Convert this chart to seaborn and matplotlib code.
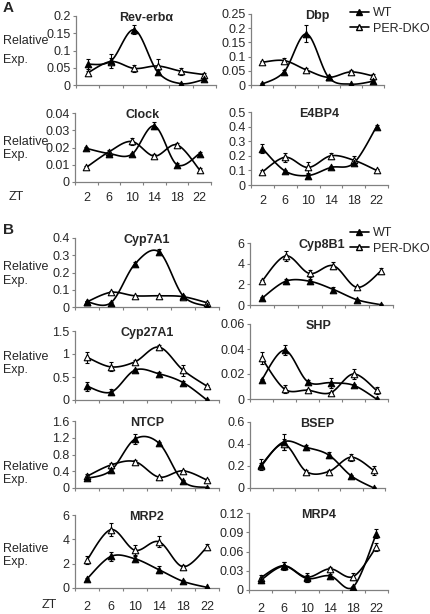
import matplotlib.pyplot as plt
import numpy as np
import pandas as pd
import seaborn as sns
from matplotlib.lines import Line2D

sns.set_style("white")
plt.rcParams["font.family"] = ["Liberation Sans", "DejaVu Sans"]

zt = [2, 6, 10, 14, 18, 22]

# panel A
rev_wt = [0.060, 0.070, 0.160, 0.038, 0.004, 0.016]
rev_wt_err = [0.015, 0.020, 0.013, 0.006, 0.003, 0.005]
rev_dko = [0.035, 0.068, 0.048, 0.055, 0.040, 0.030]
rev_dko_err = [0.006, 0.010, 0.010, 0.020, 0.010, 0.004]

dbp_wt = [0.003, 0.047, 0.180, 0.027, 0.003, 0.013]
dbp_wt_err = [0.003, 0.005, 0.030, 0.005, 0.002, 0.004]
dbp_dko = [0.080, 0.086, 0.053, 0.027, 0.046, 0.032]
dbp_dko_err = [0.005, 0.010, 0.006, 0.004, 0.008, 0.006]

clock_wt = [0.0195, 0.0165, 0.0160, 0.0325, 0.0100, 0.0165]
clock_wt_err = [0.001, 0.001, 0.001, 0.002, 0.001, 0.001]
clock_dko = [0.0085, 0.0175, 0.0235, 0.0150, 0.0215, 0.0070]
clock_dko_err = [0.001, 0.001, 0.002, 0.001, 0.001, 0.001]

e4bp4_wt = [0.25, 0.095, 0.065, 0.12, 0.15, 0.40]
e4bp4_wt_err = [0.03, 0.01, 0.01, 0.01, 0.01, 0.01]
e4bp4_dko = [0.09, 0.19, 0.12, 0.20, 0.17, 0.10]
e4bp4_dko_err = [0.01, 0.03, 0.04, 0.02, 0.03, 0.01]

# panel B
cyp7_wt = [0.030, 0.025, 0.250, 0.320, 0.065, 0.005]
cyp7_wt_err = [0.005, 0.005, 0.010, 0.015, 0.005, 0.003]
cyp7_dko = [0.030, 0.085, 0.065, 0.065, 0.060, 0.025]
cyp7_dko_err = [0.005, 0.008, 0.006, 0.005, 0.005, 0.005]

cyp8_wt = [0.65, 2.3, 2.3, 1.5, 0.5, 0.02]
cyp8_wt_err = [0.1, 0.25, 0.25, 0.2, 0.1, 0.05]
cyp8_dko = [2.3, 4.75, 3.05, 3.8, 1.7, 3.3]
cyp8_dko_err = [0.1, 0.5, 0.3, 0.35, 0.15, 0.3]

cyp27_wt = [0.30, 0.17, 0.65, 0.57, 0.38, 0.0]
cyp27_wt_err = [0.10, 0.07, 0.03, 0.04, 0.03, 0.02]
cyp27_dko = [0.93, 0.72, 0.83, 1.15, 0.65, 0.30]
cyp27_dko_err = [0.12, 0.10, 0.03, 0.04, 0.12, 0.03]

shp_wt = [0.015, 0.039, 0.014, 0.013, 0.011, 0.0]
shp_wt_err = [0.001, 0.004, 0.001, 0.004, 0.001, 0.001]
shp_dko = [0.033, 0.008, 0.007, 0.005, 0.020, 0.007]
shp_dko_err = [0.005, 0.003, 0.001, 0.001, 0.004, 0.003]

ntcp_wt = [0.23, 0.42, 1.17, 1.07, 0.16, 0.01]
ntcp_wt_err = [0.03, 0.04, 0.12, 0.03, 0.02, 0.01]
ntcp_dko = [0.28, 0.55, 0.63, 0.26, 0.41, 0.19]
ntcp_dko_err = [0.06, 0.04, 0.03, 0.03, 0.03, 0.02]

bsep_wt = [0.21, 0.42, 0.37, 0.30, 0.11, 0.0]
bsep_wt_err = [0.05, 0.07, 0.02, 0.03, 0.01, 0.01]
bsep_dko = [0.20, 0.40, 0.15, 0.15, 0.28, 0.16]
bsep_dko_err = [0.03, 0.05, 0.01, 0.01, 0.03, 0.04]

mrp2_wt = [0.75, 2.6, 2.4, 1.5, 0.55, 0.05]
mrp2_wt_err = [0.1, 0.4, 0.2, 0.3, 0.1, 0.05]
mrp2_dko = [2.3, 4.8, 3.1, 3.8, 1.75, 3.35]
mrp2_dko_err = [0.35, 0.55, 0.4, 0.45, 0.15, 0.25]

mrp4_wt = [0.015, 0.037, 0.018, 0.022, 0.005, 0.088]
mrp4_wt_err = [0.004, 0.006, 0.005, 0.003, 0.002, 0.007]
mrp4_dko = [0.019, 0.038, 0.020, 0.033, 0.021, 0.067]
mrp4_dko_err = [0.004, 0.005, 0.007, 0.003, 0.005, 0.006]

W, H = 430, 614

# title, data, box in pixels (left, top, right, bottom), y ticks, show x labels
panels = [
    ("Rev-erbα", rev_wt, rev_wt_err, rev_dko, rev_dko_err, (76, 16, 216, 85), [0, 0.05, 0.1, 0.15, 0.2], False),
    ("Dbp", dbp_wt, dbp_wt_err, dbp_dko, dbp_dko_err, (251, 14, 384, 85), [0, 0.05, 0.1, 0.15, 0.2, 0.25], False),
    ("Clock", clock_wt, clock_wt_err, clock_dko, clock_dko_err, (75, 113, 211, 182), [0, 0.01, 0.02, 0.03, 0.04], True),
    ("E4BP4", e4bp4_wt, e4bp4_wt_err, e4bp4_dko, e4bp4_dko_err, (251, 112, 388, 185), [0, 0.1, 0.2, 0.3, 0.4, 0.5], True),
    ("Cyp7A1", cyp7_wt, cyp7_wt_err, cyp7_dko, cyp7_dko_err, (75, 238, 219, 307), [0, 0.1, 0.2, 0.3, 0.4], False),
    ("Cyp8B1", cyp8_wt, cyp8_wt_err, cyp8_dko, cyp8_dko_err, (250, 243, 393, 305), [0, 2, 4, 6], False),
    ("Cyp27A1", cyp27_wt, cyp27_wt_err, cyp27_dko, cyp27_dko_err, (75, 331, 219, 400), [0, 0.5, 1, 1.5], False),
    ("SHP", shp_wt, shp_wt_err, shp_dko, shp_dko_err, (250, 324, 388, 399), [0, 0.02, 0.04, 0.06], False),
    ("NTCP", ntcp_wt, ntcp_wt_err, ntcp_dko, ntcp_dko_err, (75, 421, 219, 488), [0, 0.4, 0.8, 1.2, 1.6], False),
    ("BSEP", bsep_wt, bsep_wt_err, bsep_dko, bsep_dko_err, (250, 422, 385, 488), [0, 0.2, 0.4, 0.6], False),
    ("MRP2", mrp2_wt, mrp2_wt_err, mrp2_dko, mrp2_dko_err, (75, 515, 219, 588), [0, 2, 4, 6], True),
    ("MRP4", mrp4_wt, mrp4_wt_err, mrp4_dko, mrp4_dko_err, (249, 513, 388, 590), [0, 0.03, 0.06, 0.09, 0.12], True),
]


def smooth(y, n=24):
    # excel-style smoothed line (bezier through the points)
    pts = np.column_stack([np.arange(len(y), dtype=float), np.asarray(y, float)])
    t = np.linspace(0, 1, n)[:, None]
    segs = []
    for i in range(len(pts) - 1):
        p0, p1 = pts[max(i - 1, 0)], pts[i]
        p2, p3 = pts[i + 1], pts[min(i + 2, len(pts) - 1)]
        c1 = p1 + (p2 - p0) / 6
        c2 = p2 - (p3 - p1) / 6
        seg = (1 - t) ** 3 * p1 + 3 * (1 - t) ** 2 * t * c1 + 3 * (1 - t) * t ** 2 * c2 + t ** 3 * p2
        segs.append(seg if i == 0 else seg[1:])
    s = np.vstack(segs)
    return pd.DataFrame({"x": s[:, 0], "y": s[:, 1]})


fig = plt.figure(figsize=(W / 100, H / 100), dpi=100)
axis_col = "#808080"

for title, wt, wt_err, dko, dko_err, box, yticks, xlab in panels:
    l, t, r, b = box
    ax = fig.add_axes((l / W, 1 - b / H, (r - l) / W, (b - t) / H))
    pos = np.arange(len(zt))
    for vals, errs, face in [(dko, dko_err, "white"), (wt, wt_err, "black")]:
        sm = smooth(vals)
        sns.lineplot(data=sm, x="x", y="y", sort=False, estimator=None, color="black", lw=1.2, ax=ax)
        ax.errorbar(pos, vals, yerr=errs, fmt="none", ecolor="black", elinewidth=0.8, capsize=1.6, capthick=0.8)
        sns.scatterplot(x=pos, y=vals, marker="^", s=22, facecolor=face, edgecolor="black", linewidth=0.8, ax=ax, zorder=5)
    ax.set_xlim(-0.5, 5.5)
    ax.set_ylim(0, yticks[-1])
    ax.set_yticks(yticks)
    ax.set_yticklabels([f"{v:g}" for v in yticks], fontsize=9)
    ax.set_xticks(pos)
    ax.set_xticks(np.arange(-0.5, 6, 1), minor=True)
    if xlab:
        ax.set_xticklabels([str(z) for z in zt], fontsize=9)
    else:
        ax.set_xticklabels([])
    ax.tick_params(axis="x", which="major", length=0, pad=7 if b < 300 else 9)
    ax.tick_params(axis="x", which="minor", length=2.5, width=0.8, color=axis_col, direction="out", bottom=True)
    ax.tick_params(axis="y", length=2, width=0.8, color=axis_col, direction="out", left=True, pad=2)
    ax.set_xlabel("")
    ax.set_ylabel("")
    for s in ["top", "right"]:
        ax.spines[s].set_visible(False)
    for s in ["left", "bottom"]:
        ax.spines[s].set_color(axis_col)
        ax.spines[s].set_linewidth(0.9)
    ax.text(0.5, 0.97, title, transform=ax.transAxes, ha="center", va="center", fontsize=9, fontweight="bold")


def ftext(x, y, s, **kw):
    fig.text(x / W, 1 - y / H, s, **kw)


ftext(3, 8, "A", fontsize=11, fontweight="bold", va="center")
ftext(3, 230, "B", fontsize=11, fontweight="bold", va="center")

for y1, y2 in [(41, 60), (142, 155), (267, 281), (357, 370), (467, 480), (549, 562)]:
    ftext(3, y1, "Relative", fontsize=9, va="center")
    ftext(3, y2, "Exp.", fontsize=9, va="center")

ftext(16, 197, "ZT", fontsize=9, va="center", ha="center")
ftext(49, 605, "ZT", fontsize=9, va="center", ha="center")

handles = [
    Line2D([], [], color="black", lw=1.2, marker="^", ms=4.5, mfc="black", mec="black"),
    Line2D([], [], color="black", lw=1.2, marker="^", ms=4.5, mfc="white", mec="black"),
]
for ytop in [7, 227]:
    fig.legend(handles, ["WT", "PER-DKO"], loc="upper left", bbox_to_anchor=(350 / W, 1 - ytop / H),
               frameon=False, fontsize=9, handlelength=1.5, handletextpad=0.3, labelspacing=0.3, borderpad=0,
               borderaxespad=0)

fig.savefig("out.png", dpi=100)
